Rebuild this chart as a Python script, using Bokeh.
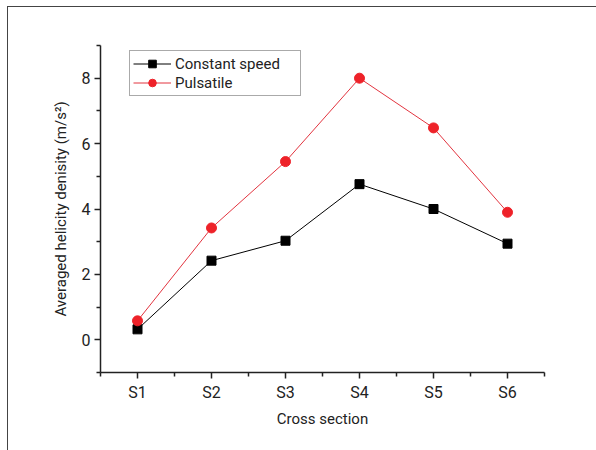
from bokeh.plotting import figure
from bokeh.models import Legend, LegendItem, FixedTicker, Range1d
from bokeh.embed import file_html
from bokeh.resources import INLINE

sections = ["S1", "S2", "S3", "S4", "S5", "S6"]
constant_speed = [0.32, 2.42, 3.03, 4.76, 4.00, 2.94]
pulsatile = [0.58, 3.42, 5.45, 8.00, 6.48, 3.90]
y_major = [0, 2, 4, 6, 8]
y_minor = [-1, 1, 3, 5, 7, 9]

x = list(range(1, len(sections) + 1))
x_minor = [i + 0.5 for i in range(0, len(sections) + 1)]

FONT = "Roboto"

p = figure(width=589, height=444,
           x_range=Range1d(0.5, 6.5), y_range=Range1d(-1, 9),
           output_backend="svg", toolbar_location=None,
           min_border_left=92, min_border_right=53,
           min_border_top=38, min_border_bottom=79)
p.margin = (6, 0, 0, 7)
p.styles = {"border-left": "1px solid #444", "border-top": "1px solid #444"}
p.outline_line_color = None
p.xgrid.visible = False
p.ygrid.visible = False

l1 = p.line(x, constant_speed, line_color="black", line_width=1)
m1 = p.scatter(x, constant_speed, marker="square", size=9, color="black")
l2 = p.line(x, pulsatile, line_color="#e2343f", line_width=1)
m2 = p.scatter(x, pulsatile, marker="circle", size=10, color="#ee2229")

for ax in (p.xaxis[0], p.yaxis[0]):
    ax.axis_line_width = 1.5
    ax.axis_line_color = "#222222"
    ax.major_tick_line_width = 1.5
    ax.minor_tick_line_width = 1.5
    ax.major_tick_line_color = "#222222"
    ax.minor_tick_line_color = "#222222"
    ax.major_tick_out = 6
    ax.major_tick_in = 0
    ax.minor_tick_out = 4
    ax.minor_tick_in = 0
    ax.major_label_text_font = FONT
    ax.major_label_text_font_size = "16px"
    ax.major_label_text_color = "#222222"
    ax.axis_label_text_font = FONT
    ax.axis_label_text_font_size = "15px"
    ax.axis_label_text_font_style = "normal"
    ax.axis_label_text_color = "#222222"

p.xaxis[0].ticker = FixedTicker(ticks=x, minor_ticks=x_minor)
p.xaxis[0].major_label_overrides = {i: s for i, s in zip(x, sections)}
p.xaxis[0].axis_label = "Cross section"
p.xaxis[0].axis_label_standoff = 5
p.xaxis[0].major_label_standoff = 4

p.yaxis[0].ticker = FixedTicker(ticks=y_major, minor_ticks=y_minor)
p.yaxis[0].axis_label = "Averaged helicity denisity (m/s\u00b2)"
p.yaxis[0].axis_label_standoff = 9
p.yaxis[0].major_label_standoff = 4

legend = Legend(items=[LegendItem(label="Constant speed", renderers=[l1, m1]),
                       LegendItem(label="Pulsatile", renderers=[l2, m2])],
                location=(29, 276))
legend.label_text_font = FONT
legend.label_text_font_size = "15px"
legend.label_text_color = "#222222"
legend.glyph_width = 38
legend.glyph_height = 19
legend.label_height = 19
legend.label_width = 122
legend.label_standoff = 4
legend.padding = 3
legend.spacing = 0
legend.margin = 0
legend.border_line_color = "#555555"
legend.border_line_width = 1
p.add_layout(legend, "center")

open("out.html", "w").write(file_html(p, INLINE))
